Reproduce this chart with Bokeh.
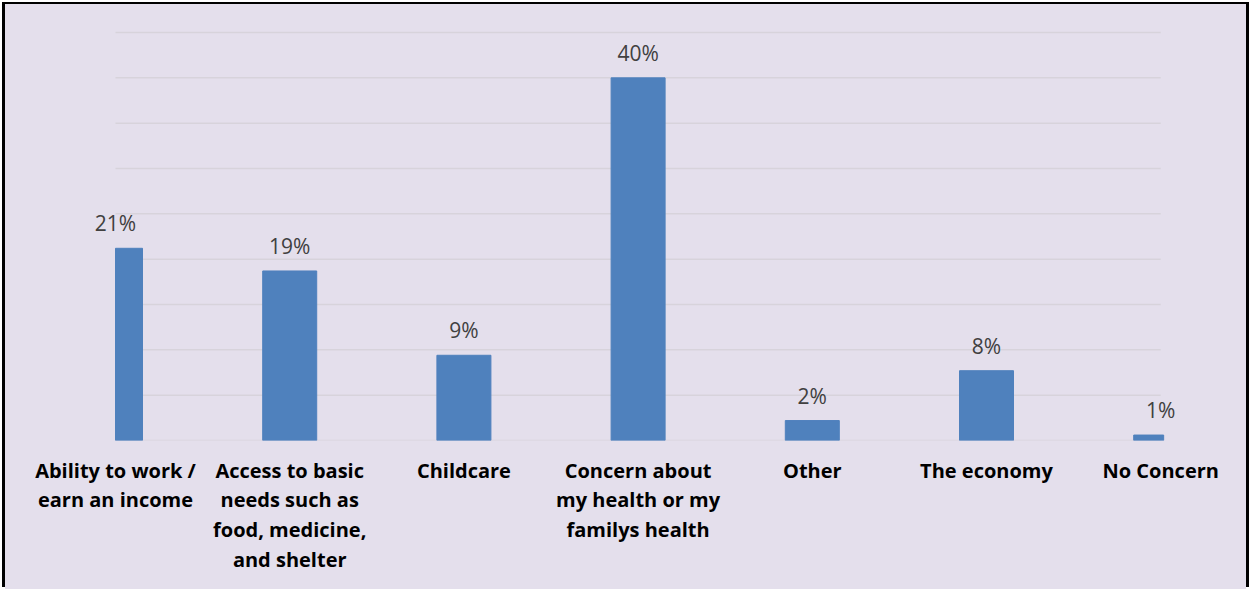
from bokeh.plotting import figure
from bokeh.models import ColumnDataSource, FixedTicker, Range1d, LabelSet
from bokeh.core.properties import value
from bokeh.embed import file_html
from bokeh.resources import INLINE

categories = [
    "Ability to work /\nearn an income",
    "Access to basic\nneeds such as\nfood, medicine,\nand shelter",
    "Childcare",
    "Concern about\nmy health or my\nfamilys health",
    "Other",
    "The economy",
    "No Concern",
]
values = [21.2, 18.7, 9.4, 40.0, 2.2, 7.7, 0.6]
value_labels = [f"{round(v)}%" for v in values]
y_ticks = [0, 5, 10, 15, 20, 25, 30, 35, 40, 45]

BG = "#E4DFEC"
BAR = "#4F81BD"
GRID = "#D7D3DB"

n = len(categories)
xs = list(range(n))
bar_w = 0.31
plot_edge = n - 1 + 0.017
lefts = [max(i - bar_w / 2, 0) for i in xs]
rights = [min(i + bar_w / 2, plot_edge) for i in xs]
src = ColumnDataSource(dict(x=xs, v=values, lab=value_labels, l=lefts, r=rights))

p = figure(width=1241, height=585, output_backend="svg", toolbar_location=None,
           x_range=Range1d(-0.6315, 6.4925), y_range=Range1d(0, 48.09),
           min_border_left=0, min_border_right=0, min_border_top=0, min_border_bottom=149)
p.styles = {"margin-left": "5px", "margin-top": "4px", "background-color": BG,
            "box-shadow": "-3px -2px 0 0 #000, 3px -2px 0 0 #000"}
p.background_fill_color = None
p.border_fill_color = None
p.outline_line_color = None

# gridlines spanning the category range
p.segment(x0=[0] * len(y_ticks), x1=[n - 1] * len(y_ticks), y0=y_ticks, y1=y_ticks,
          line_color=GRID, line_width=1.5)

p.quad(left="l", right="r", top="v", bottom=0, source=src, color=BAR)

labels = LabelSet(x="x", y="v", text="lab", source=src, text_align="center",
                  text_baseline="middle", y_offset=25, text_font=value("Open Sans"),
                  text_font_size=value("21px"), text_color="#404040")
p.add_layout(labels)

p.yaxis.visible = False
p.xgrid.visible = False
p.ygrid.visible = False

ax = p.xaxis[0]
ax.ticker = FixedTicker(ticks=xs)
ax.major_label_overrides = {i: c for i, c in enumerate(categories)}
ax.axis_line_color = None
ax.major_tick_line_color = None
ax.minor_tick_line_color = None
ax.major_label_standoff = 10
ax.major_label_text_font = "Open Sans"
ax.major_label_text_font_style = "bold"
ax.major_label_text_font_size = "20px"
ax.major_label_text_color = "#000000"
ax.major_label_text_line_height = 1.1

open("out.html", "w").write(file_html(p, INLINE))
